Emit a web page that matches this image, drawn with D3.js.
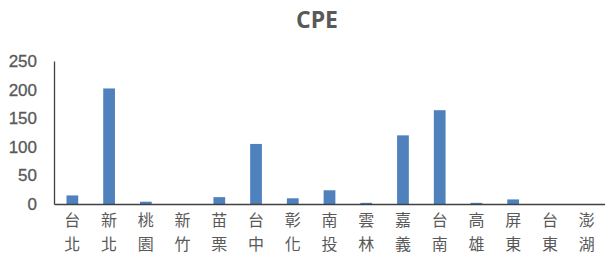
<!DOCTYPE html>
<html>
<head>
<meta charset="utf-8">
<script src="https://cdn.jsdelivr.net/npm/d3@7"></script>
<style>
  body { margin: 0; background: #fff; }
  svg { display: block; }
</style>
</head>
<body>
<div id="root"></div>
<script>
const regions = ["台北", "新北", "桃園", "新竹", "苗栗", "台中", "彰化", "南投", "雲林", "嘉義", "台南", "高雄", "屏東", "台東", "澎湖"]
const values = [15, 202, 4, 0, 12, 105, 10, 24, 2, 120, 164, 2, 8, 0, 0]
const yTicks = [0, 50, 100, 150, 200, 250]
const title = "CPE"

const w = 605, h = 261
const plotLeft = 54, plotRight = 605, plotTop = 61, plotBottom = 204

//scales
const x = d3.scaleBand()
    .domain(regions)
    .range([plotLeft, plotRight])
    .paddingInner(0.68)
    .paddingOuter(0.34)

const y = d3.scaleLinear()
    .domain([0, 250])
    .range([plotBottom, plotTop])

const svg = d3.select("#root").append("svg")
    .attr("width", w)
    .attr("height", h)
    .attr("viewBox", '0 0 ' + w + ' ' + h)

svg.append("text")
    .attr("x", 317)
    .attr("y", 28)
    .attr("text-anchor", "middle")
    .attr("font-family", "'Open Sans', 'Liberation Sans', sans-serif")
    .attr("font-weight", "bold")
    .attr("font-size", 23)
    .attr("fill", "#595959")
    .text(title)

// bars
svg.selectAll("rect.bar")
    .data(values)
    .join("rect")
    .attr("class", "bar")
    .attr("x", (d, i) => x(regions[i]))
    .attr("width", x.bandwidth())
    .attr("y", d => y(d))
    .attr("height", d => plotBottom - y(d))
    .attr("fill", "#4f81bd")

// y axis
const yAxis = svg.append("g")
    .attr("transform", "translate(" + plotLeft + ",0)")
    .call(d3.axisLeft(y).tickValues(yTicks).tickSize(0).tickPadding(17))
yAxis.select(".domain").attr("stroke", "#404040").attr("stroke-width", 1.3)
yAxis.selectAll("text")
    .attr("font-family", "'Liberation Sans', sans-serif")
    .attr("font-size", 17)
    .attr("fill", "#595959")
    .attr("stroke", "#595959")
    .attr("stroke-width", 0.3)

// x axis
const xAxis = svg.append("g")
    .attr("transform", "translate(0," + plotBottom + ")")
    .call(d3.axisBottom(x).tickSize(0).tickFormat(""))
xAxis.select(".domain").attr("stroke", "#404040").attr("stroke-width", 1.3)

// vertical two-line labels
const labels = svg.selectAll("text.cat")
    .data(regions)
    .join("text")
    .attr("class", "cat")
    .attr("text-anchor", "middle")
    .attr("font-family", "'Noto Sans CJK TC', sans-serif")
    .attr("font-size", 16)
    .attr("fill", "#595959")

labels.selectAll("tspan")
    .data(d => d.split(""))
    .join("tspan")
    .attr("x", function () { return x(d3.select(this.parentNode).datum()) + x.bandwidth() / 2 })
    .attr("y", (c, i) => 226 + i * 23.5)
    .text(c => c)
</script>
</body>
</html>
